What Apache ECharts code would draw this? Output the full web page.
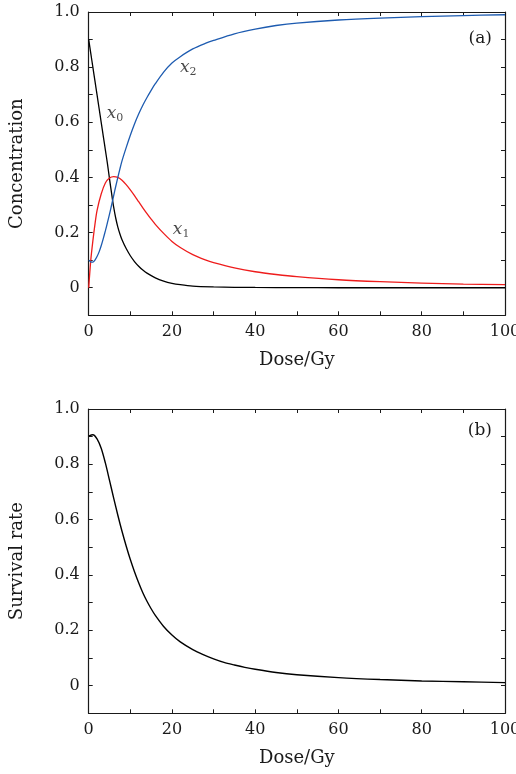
<!DOCTYPE html>
<html>
<head>
<meta charset="utf-8">
<style>html,body{margin:0;padding:0;background:#fff;}#c{width:516px;height:774px;}</style>
<script src="https://cdn.jsdelivr.net/npm/echarts@6/dist/echarts.min.js"></script>
</head>
<body>
<div id="c"></div>
<script>
// ---- data ----
const doseX0 = [0,0.5,1,1.5,2,2.5,3,3.5,4,4.5,5,5.5,6,6.5,7,7.5,8,9,10,11,12,13,14,16,18,20,22,25,30,35,40,50,60,70,80,90,100];
const x0Vals = [0.9,0.85,0.8,0.75,0.70,0.65,0.6,0.55,0.5,0.45,0.395,0.342,0.292,0.252,0.22,0.195,0.174,0.142,0.116,0.095,0.078,0.064,0.053,0.036,0.024,0.016,0.011,0.006,0.003,0.0015,0.001,0.0005,0,0,0,0,0];

const doseX1 = [0,0.5,1,1.5,2,3,4,5,6,7,8,9,10,11,12,13,14,15,16,18,20,22,25,28,30,35,40,45,50,60,70,80,90,100];
const x1Vals = [0,0.1,0.17,0.23,0.28,0.34,0.38,0.398,0.403,0.40,0.39,0.374,0.355,0.334,0.312,0.29,0.269,0.249,0.23,0.197,0.168,0.146,0.12,0.101,0.091,0.072,0.058,0.048,0.04,0.029,0.022,0.017,0.013,0.011];

const doseX2 = [0,0.5,1,1.5,2,2.5,3,3.5,4,4.5,5,5.5,6,6.5,7,7.5,8,9,10,11,12,13,14,15,16,18,20,22,25,28,30,35,40,45,50,60,70,80,90,100];
const x2Vals = [0.1,0.094,0.093,0.1,0.113,0.13,0.152,0.178,0.206,0.236,0.267,0.3,0.334,0.368,0.4,0.431,0.46,0.508,0.553,0.594,0.63,0.662,0.69,0.716,0.74,0.782,0.815,0.838,0.866,0.886,0.897,0.921,0.938,0.951,0.96,0.971,0.978,0.983,0.987,0.99];

const doseS = [0,1,2,3,4,5,6,7,8,9,10,11,12,13,14,15,16,18,20,22,25,27.5,30,32.5,35,37.5,40,45,50,60,70,80,90,100];
const survVals = [0.902,0.907,0.892,0.858,0.805,0.742,0.678,0.616,0.558,0.505,0.456,0.412,0.372,0.336,0.305,0.278,0.254,0.214,0.183,0.158,0.130,0.112,0.097,0.084,0.0745,0.066,0.059,0.0475,0.0395,0.029,0.022,0.017,0.014,0.011];

const curveNames = ['0','1','2'];
const curveLabelPos = [[6.3,0.633],[22.2,0.21],[23.9,0.80]];
const xTickLabels = [0,20,40,60,80,100];
const yTickLabels = ['0','0.2','0.4','0.6','0.8','1.0'];
const panelTags = ['(a)','(b)'];

// ---- chart ----
const FONT = 'DejaVu Serif';
const zip = (a,b) => a.map((v,i)=>[v,b[i]]);
const chart = echarts.init(document.getElementById('c'), null, {renderer:'canvas'});

const grids = [
  {left:88.7, top:12, width:416.3, height:303.3, containLabel:false, outerBoundsMode:'none'},
  {left:88.7, top:409, width:416.3, height:304.3, containLabel:false, outerBoundsMode:'none'}
];
const axisLine = {show:true, onZero:false, lineStyle:{color:'#1a1a1a', width:1.2}};
const tick = {show:true, inside:true, length:4, lineStyle:{color:'#1a1a1a', width:1}};
const xFmt = v => xTickLabels.includes(Math.round(v)) ? String(Math.round(v)) : '';
const yFmt = v => { const k = Math.round(v*10); if (k<0 || k%2) return ''; return yTickLabels[k/2]; };

const xAxes = [], yAxes = [];
const yNames = ['Concentration','Survival rate'];
[0,1].forEach(g=>{
  xAxes.push({type:'value', gridIndex:g, position:'bottom', min:0, max:100, interval:10,
    axisLine, axisTick:tick, splitLine:{show:false},
    axisLabel:{formatter:xFmt, margin:9, color:'#1a1a1a', fontFamily:FONT, fontSize:16, showMinLabel:true, showMaxLabel:true, hideOverlap:false},
    name:'Dose/Gy', nameLocation:'middle', nameGap:36,
    nameTextStyle:{fontFamily:FONT, fontSize:18, color:'#1a1a1a'}});
  xAxes.push({type:'value', gridIndex:g, position:'top', min:0, max:100, interval:10,
    axisLine, axisTick:tick, splitLine:{show:false}, axisLabel:{show:false}});
  yAxes.push({type:'value', gridIndex:g, position:'left', min:-0.1, max:1.0, interval:0.1,
    axisLine, axisTick:tick, splitLine:{show:false},
    axisLabel:{formatter:yFmt, margin:9, color:'#1a1a1a', fontFamily:FONT, fontSize:16},
    name:yNames[g], nameLocation:'middle', nameGap:62,
    nameTextStyle:{fontFamily:FONT, fontSize:18, color:'#1a1a1a'}});
  yAxes.push({type:'value', gridIndex:g, position:'right', min:-0.1, max:1.0, interval:0.1,
    axisLine, axisTick:tick, splitLine:{show:false}, axisLabel:{show:false}});
});

const lineBase = {type:'line', showSymbol:false, smooth:0.3, silent:true, animation:false};
const rich = {
  x:{fontFamily:FONT, fontStyle:'italic', fontSize:17, color:'#1a1a1a'},
  s:{fontFamily:FONT, fontSize:11, color:'#1a1a1a', padding:[9,0,0,0]}
};
const series = [
  Object.assign({}, lineBase, {xAxisIndex:0, yAxisIndex:0, data:zip(doseX0,x0Vals), lineStyle:{color:'#000', width:1.3}}),
  Object.assign({}, lineBase, {xAxisIndex:0, yAxisIndex:0, data:zip(doseX1,x1Vals), lineStyle:{color:'#ee1c1c', width:1.3}}),
  Object.assign({}, lineBase, {xAxisIndex:0, yAxisIndex:0, data:zip(doseX2,x2Vals), lineStyle:{color:'#1d5bb0', width:1.3}}),
  Object.assign({}, lineBase, {xAxisIndex:2, yAxisIndex:2, data:zip(doseS,survVals), lineStyle:{color:'#000', width:1.4}}),
  {type:'scatter', xAxisIndex:0, yAxisIndex:0, symbolSize:0, silent:true, animation:false,
   data: curveNames.map((n,i)=>({value:curveLabelPos[i], name:n})),
   label:{show:true, position:'inside', formatter:p=>'{x|x}{s|'+p.name+'}', rich}}
];

chart.setOption({
  backgroundColor:'#fff',
  animation:false,
  grid:grids,
  xAxis:xAxes,
  yAxis:yAxes,
  series,
  graphic:[
    {type:'text', right:24, top:30, style:{text:panelTags[0], font:'17px "DejaVu Serif"', fill:'#1a1a1a'}},
    {type:'text', right:24, top:422, style:{text:panelTags[1], font:'17px "DejaVu Serif"', fill:'#1a1a1a'}}
  ]
});
</script>
</body>
</html>
